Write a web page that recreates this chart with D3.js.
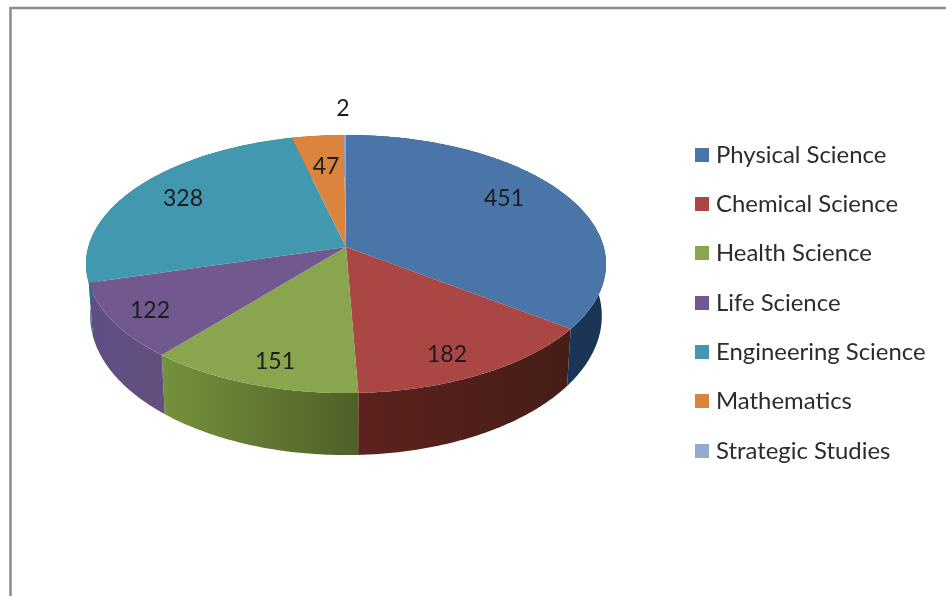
<!DOCTYPE html>
<html><head><meta charset="utf-8">
<script src="https://cdnjs.cloudflare.com/ajax/libs/d3/7.8.5/d3.min.js"></script>
<style>html,body{margin:0;padding:0;background:#fff;overflow:hidden}svg{display:block;filter:blur(0.6px)}</style>
</head><body>
<svg id="c" width="946" height="596"></svg>
<script>
const categories = ["Physical Science","Chemical Science","Health Science","Life Science","Engineering Science","Mathematics","Strategic Studies"];
const values = [451,182,151,122,328,47,2];
const topColors = ["#4a75a9","#aa4644","#89a64e","#71598f","#4198af","#db843d","#93a9cf"];
const sideLeft  = ["#1d3a5e","#5c221e","#76923c","#604d86","#2b7088","#9a5a25","#5d7199"];
const sideRight = ["#1a3454","#471d17","#4f6029","#63507e","#2b7088","#9a5a25","#5d7199"];
const labelX = [504,447,275,150,183,326,343];
const labelY = [198,354,361,310,198,166,108];
const legendY = [155,204,253,303,352,401,451];

const svg = d3.select("#c");
const cx=346, cy=247, rx=257.7, ry=126.8, k=0.132;
// the lower rim is seen in perspective: narrower, and further down towards the viewer
const botX=0.984, botY=1.078, botShift=50.6;
const xS = d3.scaleLinear().domain([-1,1]).range([cx-rx,cx+rx]);
const yS = d3.scaleLinear().domain([-1,1]).range([cy-ry,cy+ry]);
function proj(a,r){
  const u=r*Math.sin(a), v=-r*Math.cos(a), w=1-k*v;
  return [xS(u/w), yS(v/w)];
}
const lower = p => [cx+(p[0]-cx)*botX, cy+botShift+(p[1]-cy)*botY];
const line = d3.line();
const pie = d3.pie().sort(null).value(d=>d)(values);
function rim(s,e){
  const n=Math.max(2,Math.ceil((e-s)/0.01));
  return d3.range(n+1).map(i=>proj(s+(e-s)*i/n,1));
}
const defs = svg.append("defs");

// frame
svg.append("path").attr("d",line([[10.5,596],[10.5,8],[946,8]])).attr("fill","none").attr("stroke","#8c8c8c").attr("stroke-width",2.5);

const g = svg.append("g");
// side walls
pie.forEach((p,i)=>{
  const top=rim(p.startAngle,p.endAngle), bot=top.map(lower);
  const xs=top.map(d=>d[0]);
  const id="side"+i;
  const gr=defs.append("linearGradient").attr("id",id).attr("gradientUnits","userSpaceOnUse")
    .attr("x1",d3.min(xs)).attr("x2",d3.max(xs)).attr("y1",0).attr("y2",0);
  gr.append("stop").attr("offset","0").attr("stop-color",sideLeft[i]);
  gr.append("stop").attr("offset","1").attr("stop-color",sideRight[i]);
  g.append("path").attr("d",line(top.concat(bot.reverse()))+"Z").attr("fill",`url(#${id})`);
});
// top faces
pie.forEach((p,i)=>{
  const pts=[proj(0,0)].concat(rim(p.startAngle,p.endAngle));
  g.append("path").attr("d",line(pts)+"Z").attr("fill",topColors[i]);
});
const font="Lato, 'Open Sans', sans-serif";
// value labels
values.forEach((v,i)=>{
  svg.append("text").attr("x",labelX[i]).attr("y",labelY[i]).attr("dy","0.35em")
    .attr("text-anchor","middle").attr("font-family",font).attr("font-size",23)
    .attr("fill","#1c1c1c").text(v);
});
// legend
categories.forEach((c,i)=>{
  svg.append("rect").attr("x",695).attr("y",legendY[i]-7).attr("width",14).attr("height",14).attr("fill",topColors[i]);
  svg.append("text").attr("x",716).attr("y",legendY[i]).attr("dy","0.35em")
    .attr("font-family",font).attr("font-size",23.9).attr("fill","#2c2c2c").text(c);
});
</script></body></html>
